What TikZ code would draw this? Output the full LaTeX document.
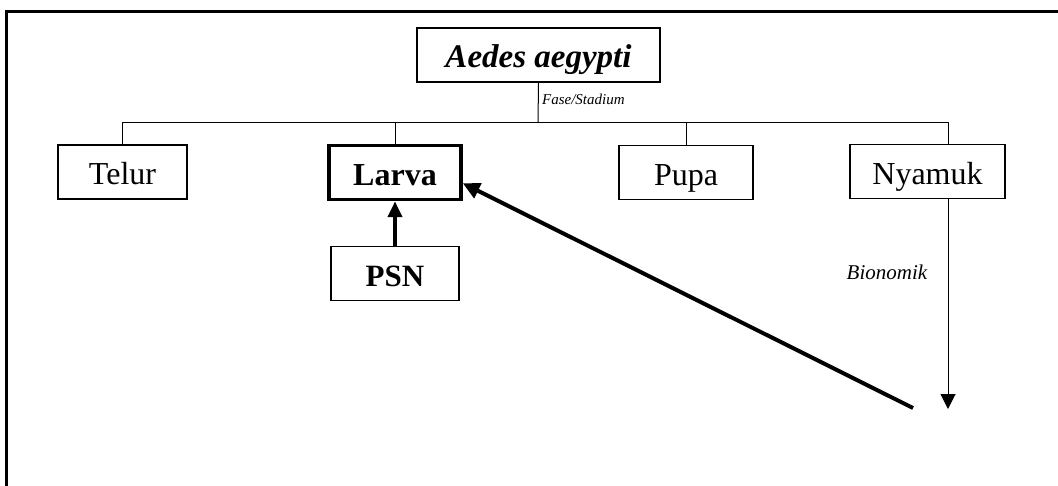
\documentclass[tikz,border=0pt]{standalone}
\usepackage{fontspec}
\setmainfont{Liberation Serif}
\usetikzlibrary{arrows.meta}

\begin{document}
\begin{tikzpicture}[x=1pt, y=-1pt,
    stage/.style={draw, line width=1.8pt, inner sep=0pt, minimum height=54pt,
        text height=26pt, text depth=0pt, font=\fontsize{32}{32}\selectfont},
    tip/.style={-{Triangle[length=15pt, width=15pt]}}
  ]
    \useasboundingbox (0,0) rectangle (1058,486);
    \draw [line width=3pt] (6,486)--(6,12)--(1058,12);

    \node [stage, minimum width=243pt, font=\fontsize{33}{33}\selectfont\bfseries\itshape] (aedes) at (538.5,55) {Aedes aegypti};
    \node [stage, minimum width=129pt] (telur) at (122.5,172) {Telur};
    \node [stage, minimum width=132pt, line width=3.5pt, font=\fontsize{32}{32}\selectfont\bfseries] (larva) at (395,172.5) {Larva};
    \node [stage, minimum width=134pt] (pupa) at (686,172.5) {Pupa};
    \node [stage, minimum width=155pt] (nyamuk) at (927.5,171.5) {Nyamuk};
    \node [stage, minimum width=128pt, font=\fontsize{31}{31}\selectfont\bfseries] (psn) at (395,273.5) {PSN};

    \coordinate (bus) at (538,123);
    \coordinate (bio) at (948,409);
    \coordinate (far) at (913,408);

    \draw [line width=1pt] (aedes.south) -- (bus) node [pos=0.42, right, font=\fontsize{15}{15}\selectfont\itshape] {Fase/Stadium};
    \draw [line width=1pt] (telur.north) -- (telur.north |- bus) -- (bio |- bus) -- (nyamuk.north -| bio);
    \foreach \s in {larva, pupa}{
        \draw [line width=1pt] (\s.north) -- (\s.north |- bus);
    }
    \draw [line width=1pt, tip] (nyamuk.south -| bio) -- (bio) node [pos=0.35, left=17pt, font=\fontsize{21}{21}\selectfont\itshape] {Bionomik};

    \draw [line width=4pt, -{Triangle[length=16pt, width=14pt]}] (psn.north) -- (larva.south);
    \draw [line width=4pt, -{Triangle[length=17pt, width=16pt]}] (far) -- (larva.-9);

\end{tikzpicture}
\end{document}
